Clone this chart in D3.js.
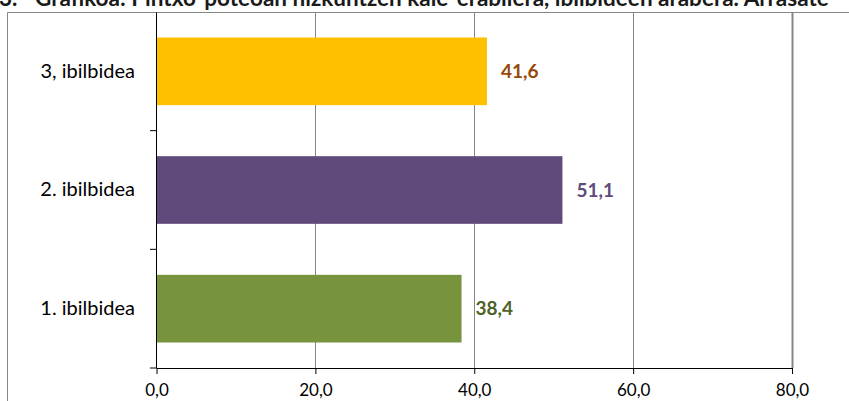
<!DOCTYPE html>
<html>
<head>
<meta charset="utf-8">
<script src="https://cdn.jsdelivr.net/npm/d3@7/dist/d3.min.js"></script>
<style>
  html, body { margin: 0; padding: 0; background: #fff; }
  svg { display: block; }
  text { font-family: Lato, "Open Sans", sans-serif; }
</style>
</head>
<body>
<svg id="chart" width="849" height="401"></svg>
<script>
// Routes (top to bottom as drawn) and their street-use values
const categories = ["3, ibilbidea", "2. ibilbidea", "1. ibilbidea"];
const values = [41.6, 51.1, 38.4];
const barColors = ["#FFC000", "#604A7B", "#77933C"];
const labelColors = ["#984807", "#604A7B", "#4F6228"];
const xTicks = [0, 20, 40, 60, 80];
const titleNumber = "3.";
const titleText = "Grafikoa: Pintxo-poteoan hizkuntzen kale-erabilera, ibilbideen arabera. Arrasate";

const svg = d3.select("#chart");
const W = 849, H = 401;
const plot = { left: 156, right: 792, top: 12, bottom: 368 };

const fmt = v => d3.format(".1f")(v).replace(".", ",");

// Title (runs off the top of the frame)
const title = svg.append("text")
  .attr("y", 6)
  .attr("font-weight", "bold")
  .attr("font-size", 22.5)
  .attr("fill", "#1a1a1a");
title.append("tspan").attr("x", -1).text(titleNumber);
title.append("tspan").attr("x", 35).text(titleText);

// Outer chart frame
svg.append("path")
  .attr("d", `M7.5,${H + 5} V12.5 H${W + 5}`)
  .attr("fill", "none")
  .attr("stroke", "#868686")
  .attr("stroke-width", 1);

const x = d3.scaleLinear().domain([0, 80]).range([plot.left + 0.5, plot.right]);
const y = d3.scaleBand().domain(categories).range([plot.top, plot.bottom]).paddingInner(0.43).paddingOuter(0.215);
const yb = d3.scaleBand().domain(categories).range([plot.top, plot.bottom]);

// Vertical gridlines
svg.append("g")
  .selectAll("line")
  .data(xTicks.slice(1))
  .join("line")
  .attr("x1", d => Math.round(x(d)) + 0.5)
  .attr("x2", d => Math.round(x(d)) + 0.5)
  .attr("y1", plot.top)
  .attr("y2", plot.bottom)
  .attr("stroke", "#868686")
  .attr("stroke-width", d => d === 80 ? 2 : 1);

// Plot area top edge
svg.append("line")
  .attr("x1", plot.left).attr("x2", plot.right + 1)
  .attr("y1", plot.top + 0.5).attr("y2", plot.top + 0.5)
  .attr("stroke", "#868686");

// Bars
svg.append("g")
  .selectAll("rect")
  .data(categories)
  .join("rect")
  .attr("x", x(0))
  .attr("y", d => y(d))
  .attr("width", (d, i) => x(values[i]) - x(0))
  .attr("height", y.bandwidth())
  .attr("fill", (d, i) => barColors[i]);

// Value labels
svg.append("g")
  .selectAll("text")
  .data(categories)
  .join("text")
  .attr("x", (d, i) => x(values[i]) + 14)
  .attr("y", d => y(d) + y.bandwidth() / 2)
  .attr("dy", "0.35em")
  .attr("font-weight", "bold")
  .attr("font-size", 19)
  .attr("fill", (d, i) => labelColors[i])
  .text((d, i) => fmt(values[i]));

// X axis
const xAxis = svg.append("g")
  .attr("transform", `translate(0,${plot.bottom})`)
  .call(d3.axisBottom(x).tickValues(xTicks).tickFormat(fmt).tickSize(6).tickSizeOuter(0));
xAxis.select(".domain").attr("stroke", "#000");
xAxis.selectAll(".tick line").attr("stroke", "#000");
xAxis.selectAll(".tick text")
  .attr("font-family", "Lato, sans-serif")
  .attr("font-size", 17)
  .attr("fill", "#000")
  .attr("dy", null)
  .attr("y", 28);

// Y axis with ticks at category boundaries
const yAxis = svg.append("g")
  .attr("transform", `translate(${plot.left},0)`)
  .call(d3.axisLeft(yb).tickSize(0).tickSizeOuter(0).tickPadding(21));
yAxis.select(".domain").attr("stroke", "#000");
yAxis.selectAll(".tick text")
  .attr("font-family", "Lato, sans-serif")
  .attr("font-size", 20)
  .attr("fill", "#000");
yAxis.append("g")
  .selectAll("line")
  .data(categories)
  .join("line")
  .attr("x1", -6).attr("x2", 0)
  .attr("y1", d => yb(d) + yb.bandwidth())
  .attr("y2", d => yb(d) + yb.bandwidth())
  .attr("stroke", "#000");
</script>
</body>
</html>
